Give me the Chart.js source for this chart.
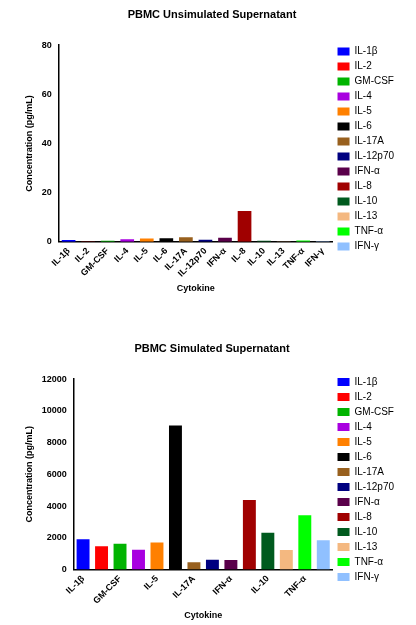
<!DOCTYPE html><html><head><script src="https://cdn.jsdelivr.net/npm/chart.js"></script>
<style>body{margin:0;background:#fff}.c{position:absolute;left:0;width:416px}</style></head><body>
<div class="c" style="top:0;height:298px"><canvas id="a"></canvas></div>
<div class="c" style="top:334px;height:291px"><canvas id="b"></canvas></div>
<script>
const categories=["IL-1β","IL-2","GM-CSF","IL-4","IL-5","IL-6","IL-17A","IL-12p70","IFN-α","IL-8","IL-10","IL-13","TNF-α","IFN-γ"];
const unstimulated=[0.7,0.1,0.4,1.0,1.3,1.4,1.8,0.8,1.6,12.5,0.4,0.1,0.5,0.2];
const stimulated=[1900,1470,1620,1250,1700,9080,450,620,600,4380,2310,1230,3420,1850];
const colors=["#0000ff","#ff0000","#00b400","#a800e0","#ff8000","#000000","#98601e","#000080","#5a004a","#a00000","#005a1e","#f4b880","#00ff00","#90c0ff"];
const F="Liberation Sans, Arial, sans-serif";
function mk(id,title,data,max,step){
new Chart(document.getElementById(id),{type:'bar',data:{labels:categories,datasets:[{data:data,backgroundColor:colors,borderColor:colors,categoryPercentage:0.7,barPercentage:1}]},
options:{responsive:true,maintainAspectRatio:false,animation:false,
layout:{padding:{left:20,right:12,top:0}},
plugins:{title:{display:true,text:title,color:'#000',font:{family:F,size:11,weight:'bold'},padding:{top:8,bottom:24}},
legend:{position:'right',labels:{color:'#000',font:{family:F,size:10},boxWidth:12,boxHeight:8,padding:5,
generateLabels:()=>categories.map((c,i)=>({text:c,fillStyle:colors[i],strokeStyle:colors[i],lineWidth:0,fontColor:'#000'}))},onClick:null},tooltip:{enabled:false}},
scales:{x:{grid:{display:false,drawTicks:true,tickLength:4,color:'#000'},border:{color:'#000',width:1.5},
ticks:{color:'#000',font:{family:F,size:9,weight:'bold'},maxRotation:45,minRotation:45,padding:0},
title:{display:true,text:'Cytokine',color:'#000',font:{family:F,size:9,weight:'bold'}}},
y:{min:0,max:max,ticks:{stepSize:step,color:'#000',font:{family:F,size:9,weight:'bold'},callback:v=>String(v)},grid:{display:false,drawTicks:true,tickLength:4},border:{color:'#000',width:1.5},
title:{display:true,text:'Concentration (pg/mL)',color:'#000',font:{family:F,size:9,weight:'bold'}}}}}});}
mk('a','PBMC Unsimulated Supernatant',unstimulated,80,20);
mk('b','PBMC Simulated Supernatant',stimulated,12000,2000);
</script></body></html>
